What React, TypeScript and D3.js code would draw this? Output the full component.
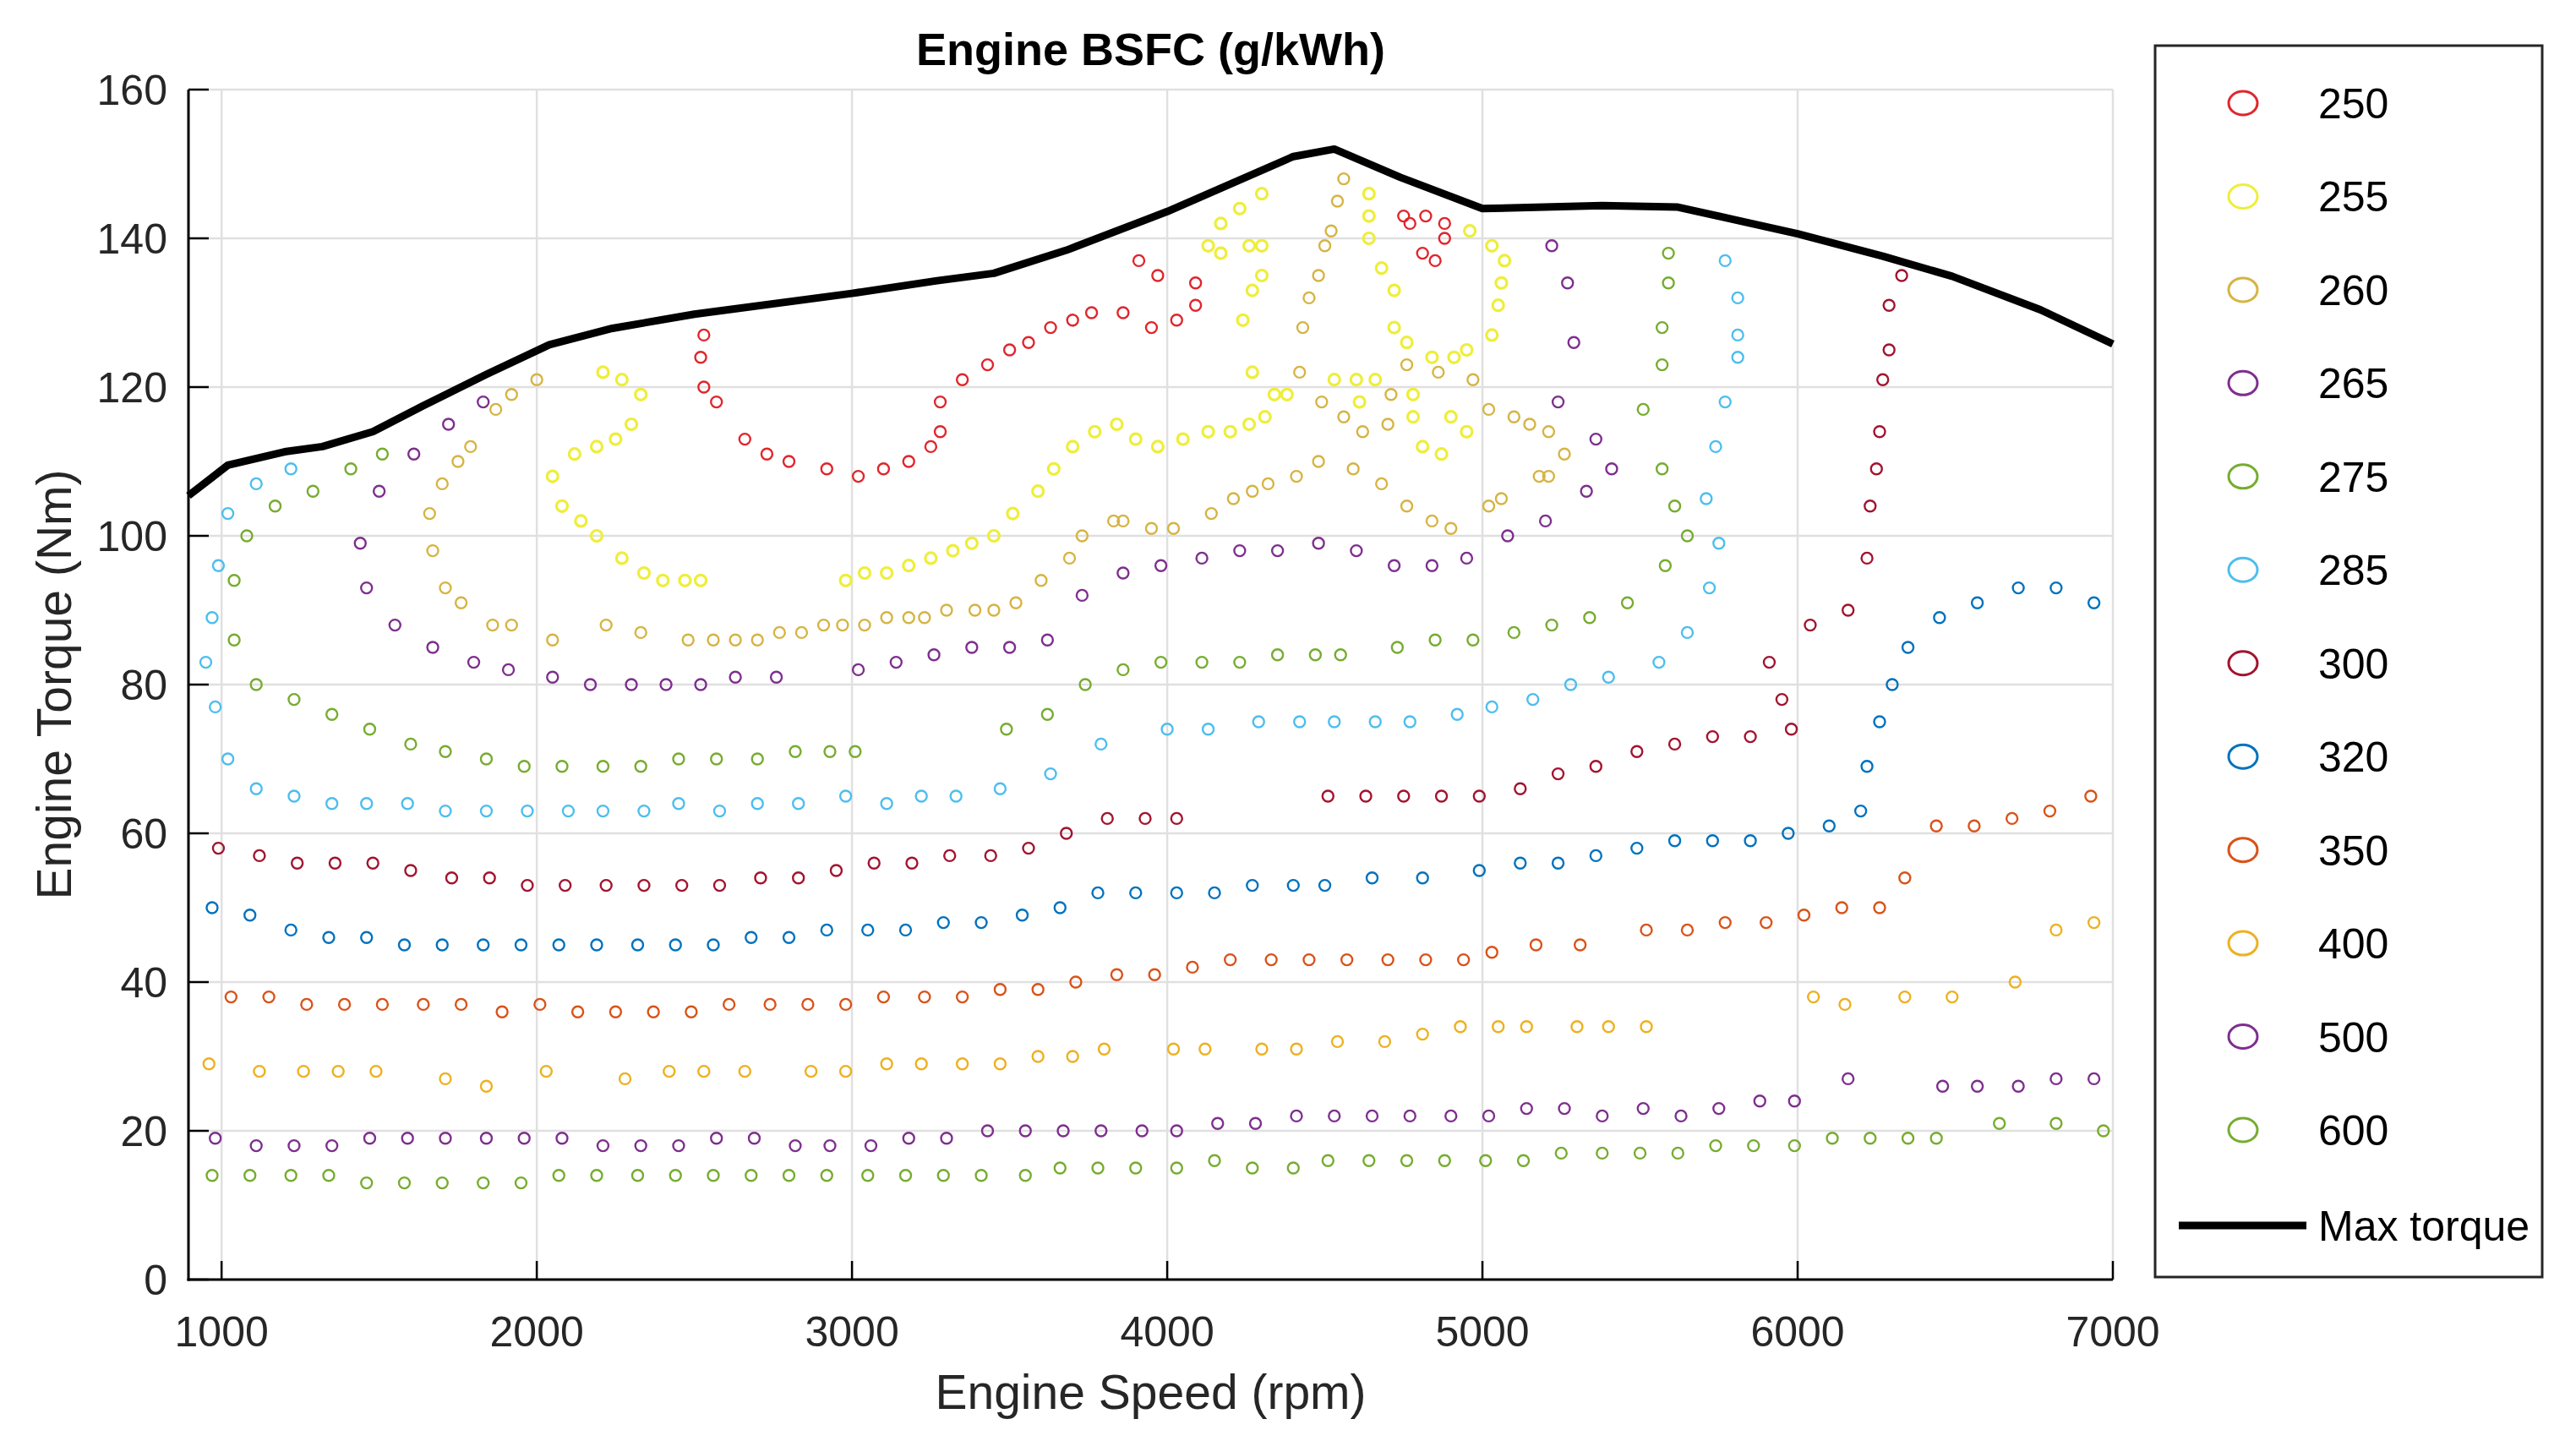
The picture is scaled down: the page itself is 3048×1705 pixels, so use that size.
import React, { useEffect, useRef } from 'react';
import * as d3 from 'd3';

// Engine BSFC iso-lines as [rpm, torque Nm] points
const bsfc250 = [[2530,127],[2520,124],[2530,120],[2570,118],[2660,113],[2730,111],[2800,110],[2920,109],[3020,108],[3100,109],[3180,110],[3250,112],[3280,114],[3280,118],[3350,121],[3430,123],[3500,125],[3560,126],[3630,128],[3700,129],[3760,130],[3860,130],[3910,137],[3970,135],[4090,134],[4090,131],[4030,129],[3950,128],[4750,143],[4770,142],[4820,143],[4880,142],[4880,140],[4810,138],[4850,137]];
const bsfc255 = [[2210,122],[2270,121],[2330,119],[2300,115],[2250,113],[2190,112],[2120,111],[2050,108],[2080,104],[2140,102],[2190,100],[2270,97],[2340,95],[2400,94],[2470,94],[2520,94],[2980,94],[3040,95],[3110,95],[3180,96],[3250,97],[3320,98],[3380,99],[3450,100],[3510,103],[3590,106],[3640,109],[3700,112],[3770,114],[3840,115],[3900,113],[3970,112],[4050,113],[4130,114],[4200,114],[4260,115],[4310,116],[4240,129],[4270,133],[4300,135],[4270,122],[4260,139],[4300,139],[4130,139],[4170,138],[4170,142],[4230,144],[4300,146],[4340,119],[4380,119],[4530,121],[4600,121],[4660,121],[4610,118],[4640,146],[4640,143],[4640,140],[4680,136],[4720,133],[4720,128],[4760,126],[4840,124],[4910,124],[4950,125],[4780,119],[4780,116],[4810,112],[4870,111],[4900,116],[4950,114],[4960,141],[5030,139],[5070,137],[5060,134],[5050,131],[5030,127]];
const bsfc260 = [[2000,121],[1920,119],[1870,117],[1790,112],[1750,110],[1700,107],[1660,103],[1670,98],[1710,93],[1760,91],[1860,88],[1920,88],[2050,86],[2220,88],[2330,87],[2480,86],[2560,86],[2630,86],[2700,86],[2770,87],[2840,87],[2910,88],[2970,88],[3040,88],[3110,89],[3180,89],[3230,89],[3300,90],[3390,90],[3450,90],[3520,91],[3600,94],[3690,97],[3730,100],[3830,102],[3860,102],[3950,101],[4020,101],[4140,103],[4210,105],[4270,106],[4320,107],[4410,108],[4480,110],[4420,122],[4430,128],[4450,132],[4480,135],[4500,139],[4520,141],[4540,145],[4560,148],[4490,118],[4560,116],[4620,114],[4590,109],[4680,107],[4760,104],[4710,119],[4700,115],[4760,123],[4860,122],[4840,102],[4900,101],[4970,121],[5020,117],[5100,116],[5150,115],[5210,114],[5260,111],[5180,108],[5210,108],[5060,105],[5020,104]];
const bsfc265 = [[1830,118],[1720,115],[1610,111],[1500,106],[1440,99],[1460,93],[1550,88],[1670,85],[1800,83],[1910,82],[2050,81],[2170,80],[2300,80],[2410,80],[2520,80],[2630,81],[2760,81],[3020,82],[3140,83],[3260,84],[3380,85],[3500,85],[3620,86],[3730,92],[3860,95],[3980,96],[4110,97],[4230,98],[4350,98],[4480,99],[4600,98],[4720,96],[4840,96],[4950,97],[5080,100],[5200,102],[5330,106],[5220,139],[5270,134],[5290,126],[5240,118],[5360,113],[5410,109]];
const bsfc275 = [[1510,111],[1410,109],[1290,106],[1170,104],[1080,100],[1040,94],[1040,86],[1110,80],[1230,78],[1350,76],[1470,74],[1600,72],[1710,71],[1840,70],[1960,69],[2080,69],[2210,69],[2330,69],[2450,70],[2570,70],[2700,70],[2820,71],[2930,71],[3010,71],[3490,74],[3620,76],[3740,80],[3860,82],[3980,83],[4110,83],[4230,83],[4350,84],[4470,84],[4550,84],[4730,85],[4850,86],[4970,86],[5100,87],[5220,88],[5340,89],[5460,91],[5580,96],[5650,100],[5610,104],[5590,138],[5590,134],[5570,128],[5570,123],[5510,117],[5570,109]];
const bsfc285 = [[1220,109],[1110,107],[1020,103],[990,96],[970,89],[950,83],[980,77],[1020,70],[1110,66],[1230,65],[1350,64],[1460,64],[1590,64],[1710,63],[1840,63],[1970,63],[2100,63],[2210,63],[2340,63],[2450,64],[2580,63],[2700,64],[2830,64],[2980,65],[3110,64],[3220,65],[3330,65],[3470,66],[3630,68],[3790,72],[4000,74],[4130,74],[4290,75],[4420,75],[4530,75],[4660,75],[4770,75],[4920,76],[5030,77],[5160,78],[5280,80],[5400,81],[5560,83],[5650,87],[5720,93],[5750,99],[5710,105],[5770,137],[5810,132],[5810,127],[5810,124],[5770,118],[5740,112]];
const bsfc300 = [[990,58],[1120,57],[1240,56],[1360,56],[1480,56],[1600,55],[1730,54],[1850,54],[1970,53],[2090,53],[2220,53],[2340,53],[2460,53],[2580,53],[2710,54],[2830,54],[2950,55],[3070,56],[3190,56],[3310,57],[3440,57],[3560,58],[3680,60],[3810,62],[3930,62],[4030,62],[4510,65],[4630,65],[4750,65],[4870,65],[4990,65],[5120,66],[5240,68],[5360,69],[5490,71],[5610,72],[5730,73],[5850,73],[5980,74],[5950,78],[5910,83],[6040,88],[6160,90],[6220,97],[6230,104],[6250,109],[6260,114],[6270,121],[6290,125],[6290,131],[6330,135]];
const bsfc320 = [[970,50],[1090,49],[1220,47],[1340,46],[1460,46],[1580,45],[1700,45],[1830,45],[1950,45],[2070,45],[2190,45],[2320,45],[2440,45],[2560,45],[2680,46],[2800,46],[2920,47],[3050,47],[3170,47],[3290,48],[3410,48],[3540,49],[3660,50],[3780,52],[3900,52],[4030,52],[4150,52],[4270,53],[4400,53],[4500,53],[4650,54],[4810,54],[4990,55],[5120,56],[5240,56],[5360,57],[5490,58],[5610,59],[5730,59],[5850,59],[5970,60],[6100,61],[6200,63],[6220,69],[6260,75],[6300,80],[6350,85],[6450,89],[6570,91],[6700,93],[6820,93],[6940,91]];
const bsfc350 = [[1030,38],[1150,38],[1270,37],[1390,37],[1510,37],[1640,37],[1760,37],[1890,36],[2010,37],[2130,36],[2250,36],[2370,36],[2490,36],[2610,37],[2740,37],[2860,37],[2980,37],[3100,38],[3230,38],[3350,38],[3470,39],[3590,39],[3710,40],[3840,41],[3960,41],[4080,42],[4200,43],[4330,43],[4450,43],[4570,43],[4700,43],[4820,43],[4940,43],[5030,44],[5170,45],[5310,45],[5520,47],[5650,47],[5770,48],[5900,48],[6020,49],[6140,50],[6260,50],[6340,54],[6440,61],[6560,61],[6680,62],[6800,63],[6930,65]];
const bsfc400 = [[960,29],[1120,28],[1260,28],[1370,28],[1490,28],[1710,27],[1840,26],[2030,28],[2280,27],[2420,28],[2530,28],[2660,28],[2870,28],[2980,28],[3110,29],[3220,29],[3350,29],[3470,29],[3590,30],[3700,30],[3800,31],[4020,31],[4120,31],[4300,31],[4410,31],[4540,32],[4690,32],[4810,33],[4930,34],[5050,34],[5140,34],[5300,34],[5400,34],[5520,34],[6050,38],[6150,37],[6340,38],[6490,38],[6690,40],[6820,47],[6940,48]];
const bsfc500 = [[980,19],[1110,18],[1230,18],[1350,18],[1470,19],[1590,19],[1710,19],[1840,19],[1960,19],[2080,19],[2210,18],[2330,18],[2450,18],[2570,19],[2690,19],[2820,18],[2930,18],[3060,18],[3180,19],[3300,19],[3430,20],[3550,20],[3670,20],[3790,20],[3920,20],[4030,20],[4160,21],[4280,21],[4410,22],[4530,22],[4650,22],[4770,22],[4900,22],[5020,22],[5140,23],[5260,23],[5380,22],[5510,23],[5630,22],[5750,23],[5880,24],[5990,24],[6160,27],[6460,26],[6570,26],[6700,26],[6820,27],[6940,27]];
const bsfc600 = [[970,14],[1090,14],[1220,14],[1340,14],[1460,13],[1580,13],[1700,13],[1830,13],[1950,13],[2070,14],[2190,14],[2320,14],[2440,14],[2560,14],[2680,14],[2800,14],[2920,14],[3050,14],[3170,14],[3290,14],[3410,14],[3550,14],[3660,15],[3780,15],[3900,15],[4030,15],[4150,16],[4270,15],[4400,15],[4510,16],[4640,16],[4760,16],[4880,16],[5010,16],[5130,16],[5250,17],[5380,17],[5500,17],[5620,17],[5740,18],[5860,18],[5990,18],[6110,19],[6230,19],[6350,19],[6440,19],[6640,21],[6820,21],[6970,20]];

const maxTorque = [[895,105.4],[1020,109.5],[1200,111.3],[1320,112],[1480,114],[1640,117.5],[1840,121.7],[2040,125.7],[2240,127.9],[2500,129.8],[3000,132.6],[3270,134.3],[3450,135.3],[3680,138.4],[4000,143.6],[4400,151],[4530,152],[4740,148.2],[5000,144],[5380,144.4],[5620,144.2],[6000,140.6],[6270,137.6],[6490,134.9],[6770,130.4],[7000,125.8]];

const seriesLabels = ['250', '255', '260', '265', '275', '285', '300', '320', '350', '400', '500', '600'];
const seriesData = [bsfc250, bsfc255, bsfc260, bsfc265, bsfc275, bsfc285, bsfc300, bsfc320, bsfc350, bsfc400, bsfc500, bsfc600];
const seriesColors = ['#e0262c', '#eeee3a', '#d6b443', '#7e2f8e', '#77ac30', '#4dbeee', '#a2142f', '#0072bd', '#d95319', '#edb120', '#7e2f8e', '#77ac30'];

const xTicks = [1000, 2000, 3000, 4000, 5000, 6000, 7000];
const yTicks = [0, 20, 40, 60, 80, 100, 120, 140, 160];

const FONT = 'Liberation Sans, Arial, Helvetica, sans-serif';

function drawChart(node) {
  const W = 3048, H = 1705;
  const left = 223, right = 2500, top = 106, bottom = 1514;

  const svg = d3.select(node).attr('width', W).attr('height', H);
  svg.selectAll('*').remove();
  svg.append('rect').attr('width', W).attr('height', H).attr('fill', '#fff');

  const x = d3.scaleLinear().domain([895, 7000]).range([left, right]);
  const y = d3.scaleLinear().domain([0, 160]).range([bottom, top]);

  // grid
  const grid = svg.append('g').attr('stroke', '#e0e0e0').attr('stroke-width', 2.5);
  grid.selectAll('line.gx').data(xTicks).enter().append('line')
    .attr('x1', d => x(d)).attr('x2', d => x(d)).attr('y1', top).attr('y2', bottom);
  grid.selectAll('line.gy').data(yTicks).enter().append('line')
    .attr('x1', left).attr('x2', right).attr('y1', d => y(d)).attr('y2', d => y(d));

  // bsfc points
  seriesData.forEach((pts, i) => {
    svg.append('g').selectAll('circle').data(pts).enter().append('circle')
      .attr('cx', d => x(d[0])).attr('cy', d => y(d[1])).attr('r', 6.5)
      .attr('fill', 'none').attr('stroke', seriesColors[i])
      .attr('stroke-width', i === 1 ? 3.2 : 2.4);
  });

  // max torque curve
  const line = d3.line().x(d => x(d[0])).y(d => y(d[1]));
  svg.append('path').datum(maxTorque).attr('d', line)
    .attr('fill', 'none').attr('stroke', '#000').attr('stroke-width', 9)
    .attr('stroke-linejoin', 'round');

  // axes
  svg.append('line').attr('x1', left).attr('x2', left).attr('y1', top).attr('y2', bottom + 1.5)
    .attr('stroke', '#000').attr('stroke-width', 3);
  svg.append('line').attr('x1', left - 1.5).attr('x2', right).attr('y1', bottom).attr('y2', bottom)
    .attr('stroke', '#000').attr('stroke-width', 3);

  svg.append('g').selectAll('line').data(xTicks).enter().append('line')
    .attr('x1', d => x(d)).attr('x2', d => x(d)).attr('y1', bottom).attr('y2', bottom - 22)
    .attr('stroke', '#000').attr('stroke-width', 2.5);
  svg.append('g').selectAll('line').data(yTicks).enter().append('line')
    .attr('x1', left).attr('x2', left + 24).attr('y1', d => y(d)).attr('y2', d => y(d))
    .attr('stroke', '#000').attr('stroke-width', 2.5);

  svg.append('g').selectAll('text').data(xTicks).enter().append('text')
    .attr('x', d => x(d)).attr('y', 1593).attr('text-anchor', 'middle')
    .style('font-family', FONT).style('font-size', '50px').attr('fill', '#262626')
    .text(d => d);
  svg.append('g').selectAll('text').data(yTicks).enter().append('text')
    .attr('x', 198).attr('y', d => y(d)).attr('dy', '0.36em').attr('text-anchor', 'end')
    .style('font-family', FONT).style('font-size', '50px').attr('fill', '#262626')
    .text(d => d);

  // labels
  svg.append('text').attr('x', (left + right) / 2).attr('y', 1667).attr('text-anchor', 'middle')
    .style('font-family', FONT).style('font-size', '57px').attr('fill', '#262626')
    .text('Engine Speed (rpm)');
  svg.append('text').attr('transform', `translate(84,${(top + bottom) / 2}) rotate(-90)`)
    .attr('text-anchor', 'middle')
    .style('font-family', FONT).style('font-size', '57px').attr('fill', '#262626')
    .text('Engine Torque (Nm)');
  svg.append('text').attr('x', (left + right) / 2).attr('y', 77).attr('text-anchor', 'middle')
    .style('font-family', FONT).style('font-size', '54px').style('font-weight', 'bold').attr('fill', '#000')
    .text('Engine BSFC (g/kWh)');

  // legend
  const lg = svg.append('g');
  lg.append('rect').attr('x', 2550).attr('y', 54).attr('width', 458).attr('height', 1457)
    .attr('fill', '#fff').attr('stroke', '#262626').attr('stroke-width', 3);
  const ly = d3.scaleLinear().domain([0, 11]).range([122, 1337]);
  seriesLabels.forEach((lab, i) => {
    lg.append('ellipse').attr('cx', 2654).attr('cy', ly(i)).attr('rx', 17).attr('ry', 14)
      .attr('fill', 'none').attr('stroke', seriesColors[i]).attr('stroke-width', 3);
    lg.append('text').attr('x', 2743).attr('y', ly(i)).attr('dy', '0.36em')
      .style('font-family', FONT).style('font-size', '50px').attr('fill', '#000')
      .text(lab);
  });
  lg.append('line').attr('x1', 2578).attr('x2', 2729).attr('y1', 1450).attr('y2', 1450)
    .attr('stroke', '#000').attr('stroke-width', 9);
  lg.append('text').attr('x', 2743).attr('y', 1450).attr('dy', '0.36em')
    .style('font-family', FONT).style('font-size', '50px').attr('fill', '#000')
    .text('Max torque');

  return svg.node();
}

const App = () => {
  const ref = useRef(null);
  useEffect(() => {
    drawChart(ref.current);
  }, []);
  return (
    <div>
      <svg ref={ref} style={{ position: 'absolute', left: 0, top: 0 }}></svg>
    </div>
  );
};

export default App;
